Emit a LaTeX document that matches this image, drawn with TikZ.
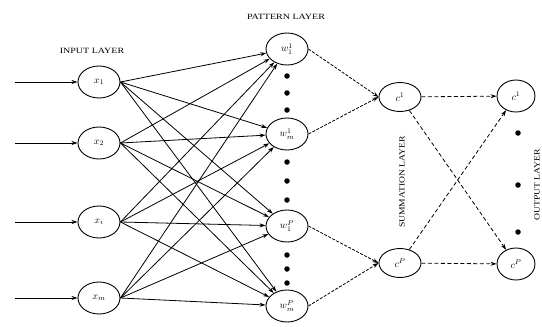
\documentclass[tikz,border=0pt]{standalone}
\usepackage{graphicx}
\usepackage{fontspec}
\setmainfont{Liberation Serif}
\usetikzlibrary{shapes.geometric,arrows.meta}
\begin{document}
\begin{tikzpicture}[x=1pt,y=-1pt,
  neuron/.style={ellipse,draw,line width=0.9pt,minimum width=42pt,minimum height=32pt,inner sep=0pt,font=\fontsize{10}{11}\selectfont},
  sumn/.style={neuron,minimum height=29pt},
  conn/.style={line width=0.8pt,-{Stealth[length=6pt,width=4pt]}},
  dconn/.style={conn,dash pattern=on 3pt off 1.5pt},
  sconn/.style={conn,dash pattern=on 4pt off 2.5pt},
  dotp/.style={circle,fill=black,inner sep=0pt,minimum size=5.5pt},
  layer/.style={font=\fontsize{8}{9}\selectfont,inner sep=0pt}]
\useasboundingbox (0,0) rectangle (542,327);
\clip (0,0) rectangle (542,327);
% input layer
\node[neuron] (x1) at (99,82) {$x_1$};
\node[neuron] (x2) at (99,143) {$x_2$};
\node[neuron] (xi) at (99,222) {$x_i$};
\node[neuron] (xm) at (99,298) {$x_m$};
\foreach \n/\y in {x1/82,x2/143,xi/222,xm/298}{
  \coordinate (s\n) at (15,\y);
  \draw[conn,line width=1pt] (s\n) -- (\n);
}
% pattern layer
\node[neuron] (w11) at (287,49) {$w_1^1$};
\node[neuron] (wm1) at (287,134) {$w_m^1$};
\node[neuron] (w1P) at (287,226) {$w_1^P$};
\node[neuron] (wmP) at (287,306) {$w_m^P$};
\foreach \a in {x1,x2,xi,xm}{
  \foreach \b in {w11,wm1,w1P,wmP}{
    \draw[conn] (\a.east) -- (\b);
  }
}
\foreach \y/\k in {76/a,93/b,110/c,162/d,181/e,200/f,255/g,269/h,283/i}{
  \node[dotp] (d\k) at (287,\y) {};
}
% summation layer
\node[sumn] (s1) at (400,97) {$c^1$};
\node[sumn] (sP) at (400,263) {$c^P$};
\draw[dconn] (w11.east) -- (s1.west);
\draw[dconn] (wm1.east) -- (s1.west);
\draw[dconn] (w1P.east) -- (sP.west);
\draw[dconn] (wmP.east) -- (sP.west);
% output layer
\node[neuron,minimum width=38pt] (c1) at (516,96) {$c^1$};
\node[neuron,minimum width=38pt] (cP) at (516,264) {$c^P$};
\draw[sconn] (s1) -- (c1);
\draw[sconn] (s1) -- (cP);
\draw[sconn] (sP) -- (c1);
\draw[sconn] (sP) -- (cP);
\foreach \y/\k in {133/j,185/k,232/l}{
  \node[dotp] (o\k) at (518,\y) {};
}
% labels
\node[layer] (lin) at (92,51) {\scalebox{1.25}[1]{INPUT LAYER}};
\node[layer] (lpat) at (286,17) {\scalebox{1.25}[1]{PATTERN LAYER}};
\node[layer,rotate=90] (lsum) at (402,182) {\scalebox{1.2}[1]{SUMMATION LAYER}};
\node[layer,rotate=90] (lout) at (537,185) {\scalebox{1.2}[1]{OUTPUT LAYER}};
\end{tikzpicture}
\end{document}
